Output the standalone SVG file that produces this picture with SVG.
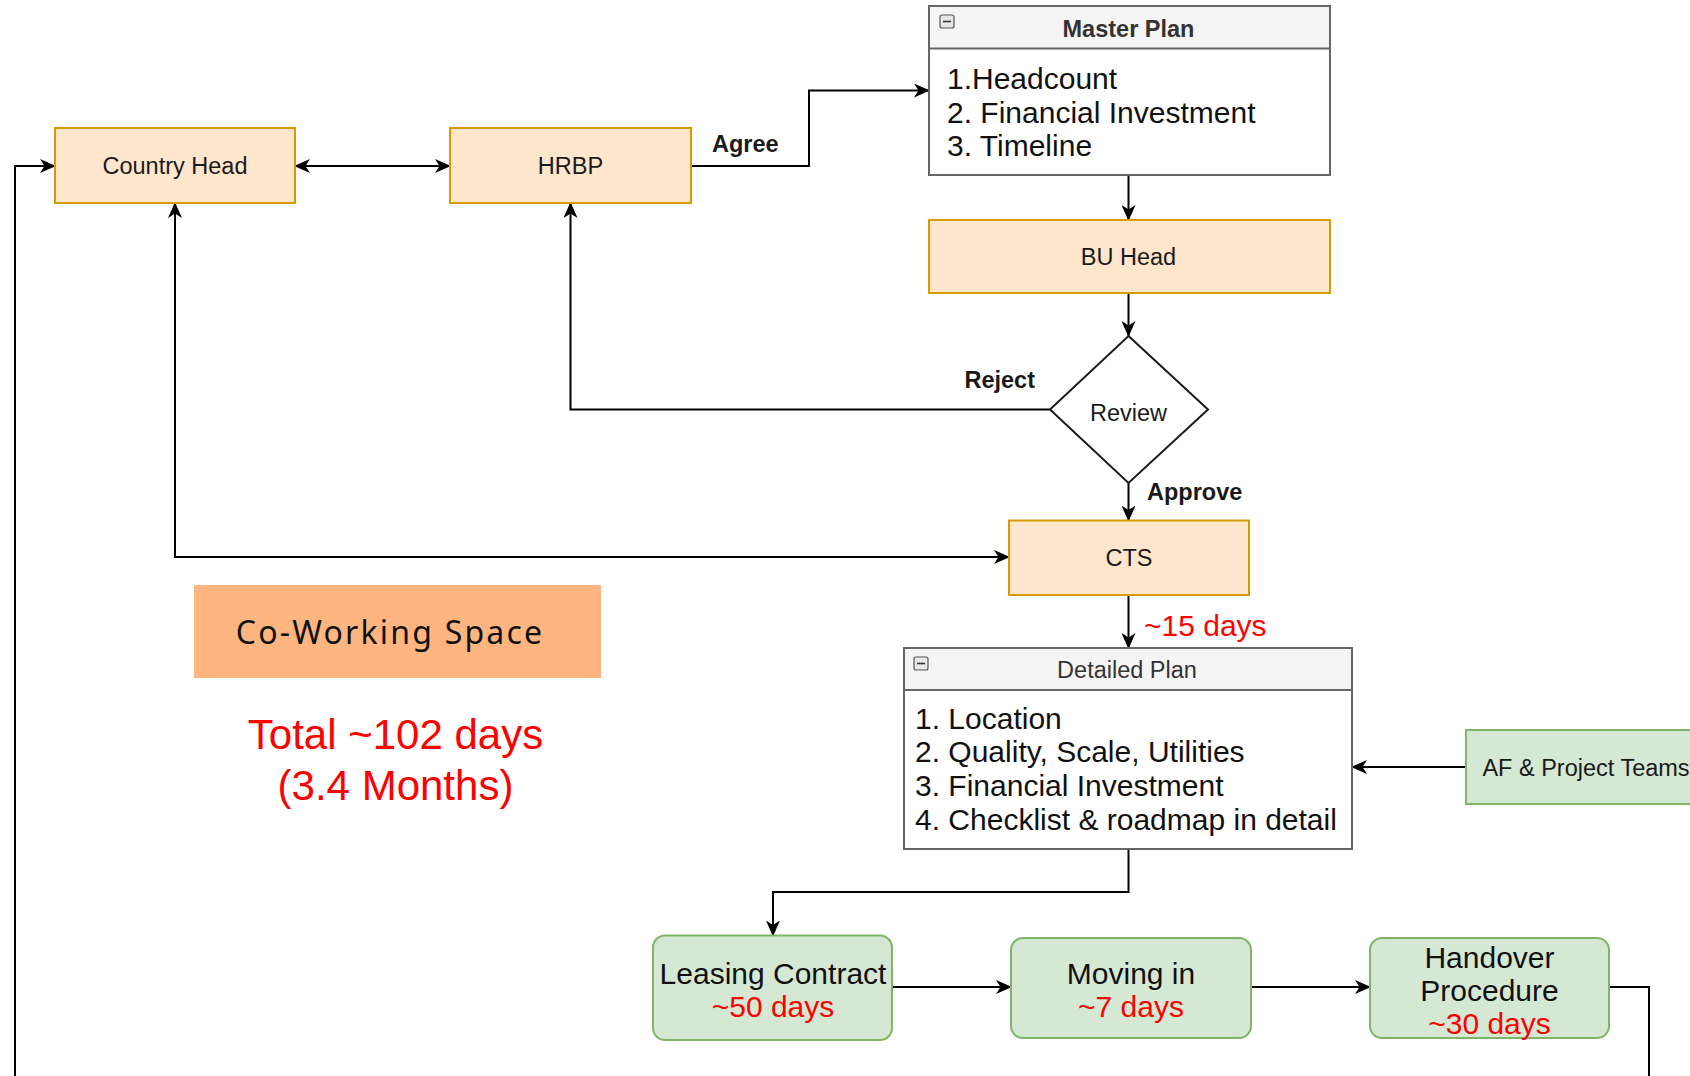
<svg xmlns="http://www.w3.org/2000/svg" width="1690" height="1076" viewBox="0 0 1690 1076">
<defs>
<marker id="arr" viewBox="0 0 16 14" refX="15" refY="7" markerWidth="16" markerHeight="14" markerUnits="userSpaceOnUse" orient="auto-start-reverse">
<path d="M0,0 L16,7 L0,14 L4.5,7 z" fill="#000"/>
</marker>
</defs>
<style>
.lbl{font-family:"Liberation Sans",Arial,sans-serif;font-size:23.5px;fill:#1a1a1a;text-anchor:middle}
.bold{font-family:"Liberation Sans",Arial,sans-serif;font-size:23.5px;font-weight:bold;fill:#1a1a1a}
.item{font-family:"Liberation Sans",Arial,sans-serif;font-size:30px;fill:#111}
.red{font-family:"Liberation Sans",Arial,sans-serif;font-size:30px;fill:#ff0000}
.big{font-family:"Liberation Sans",Arial,sans-serif;font-size:42px;fill:#ff0000;text-anchor:middle}
.orange{fill:#ffe6cc;stroke:#d79b00;stroke-width:2}
.green{fill:#d5e8d4;stroke:#82b366;stroke-width:2}
.panel{fill:#fff;stroke:#666;stroke-width:2}
.head{fill:#f5f5f5;stroke:#666;stroke-width:2}
.conn{fill:none;stroke:#000;stroke-width:2}
.icon{fill:#e8e8e8;stroke:#555;stroke-width:1.2}
</style>
<g id="connectors">
<path class="conn" d="M295,166 H450" marker-start="url(#arr)" marker-end="url(#arr)"/>
<path class="conn" d="M691,166 H809 V90.5 H929" marker-end="url(#arr)"/>
<path class="conn" d="M1128.5,175 V220" marker-end="url(#arr)"/>
<path class="conn" d="M1128.5,293 V336" marker-end="url(#arr)"/>
<path class="conn" d="M1050,409.5 H570.5 V203" marker-end="url(#arr)"/>
<path class="conn" d="M1128.5,483 V520.5" marker-end="url(#arr)"/>
<path class="conn" d="M175,203 V557 H1009" marker-start="url(#arr)" marker-end="url(#arr)"/>
<path class="conn" d="M1128.5,595 V648" marker-end="url(#arr)"/>
<path class="conn" d="M1466,767 H1352" marker-end="url(#arr)"/>
<path class="conn" d="M1128.5,849 V892 H773 V935.5" marker-end="url(#arr)"/>
<path class="conn" d="M892,987 H1011" marker-end="url(#arr)"/>
<path class="conn" d="M1251,987 H1370" marker-end="url(#arr)"/>
<path class="conn" d="M1609,987 H1649 V1100 H15 V166 H55" marker-end="url(#arr)"/>
<text class="bold" x="712" y="152">Agree</text>
<text class="bold" x="1035" y="388" text-anchor="end">Reject</text>
<text class="bold" x="1147" y="500">Approve</text>
<text class="red" x="1144" y="635.5">~15 days</text>
</g>
<g id="country-head">
<rect class="orange" x="55" y="128" width="240" height="75"/>
<text class="lbl" x="175" y="174">Country Head</text>
</g>
<g id="hrbp">
<rect class="orange" x="450" y="128" width="241" height="75"/>
<text class="lbl" x="570.5" y="174">HRBP</text>
</g>
<g id="master-plan">
<rect class="panel" x="929" y="6" width="401" height="169"/>
<rect class="head" x="929" y="6" width="401" height="42.5"/>
<rect class="icon" x="940" y="15" width="14" height="13" rx="2"/>
<line x1="943" y1="21.5" x2="951" y2="21.5" stroke="#333" stroke-width="1.6"/>
<text class="bold" x="1128.5" y="36.5" text-anchor="middle" style="fill:#333">Master Plan</text>
<text class="item" x="947" y="89">1.Headcount</text>
<text class="item" x="947" y="122.5">2. Financial Investment</text>
<text class="item" x="947" y="156">3. Timeline</text>
</g>
<g id="bu-head">
<rect class="orange" x="929" y="220" width="401" height="73"/>
<text class="lbl" x="1128.5" y="265">BU Head</text>
</g>
<g id="review">
<polygon points="1128.5,336 1208,409.5 1128.5,483 1050,409.5" fill="#fff" stroke="#1a1a1a" stroke-width="2"/>
<text class="lbl" x="1128.5" y="421">Review</text>
</g>
<g id="cts">
<rect class="orange" x="1009" y="520.5" width="240" height="74.5"/>
<text class="lbl" x="1129" y="566">CTS</text>
</g>
<g id="detailed-plan">
<rect class="panel" x="904" y="648" width="448" height="201"/>
<rect class="head" x="904" y="648" width="448" height="42"/>
<rect class="icon" x="914" y="657" width="14" height="13" rx="2"/>
<line x1="917" y1="663.5" x2="925" y2="663.5" stroke="#333" stroke-width="1.6"/>
<text class="lbl" x="1127" y="677.5" style="fill:#333">Detailed Plan</text>
<text class="item" x="915" y="728.5">1. Location</text>
<text class="item" x="915" y="762">2. Quality, Scale, Utilities</text>
<text class="item" x="915" y="796">3. Financial Investment</text>
<text class="item" x="915" y="829.5">4. Checklist &amp; roadmap in detail</text>
</g>
<g id="af-project-teams">
<rect class="green" x="1466" y="730" width="240" height="74"/>
<text class="lbl" x="1586" y="775.5">AF &amp; Project Teams</text>
</g>
<g id="leasing-contract">
<rect class="green" x="653" y="935.5" width="239" height="104.5" rx="12"/>
<text class="item" x="773" y="983.5" text-anchor="middle">Leasing Contract</text>
<text class="red" x="773" y="1017" text-anchor="middle">~50 days</text>
</g>
<g id="moving-in">
<rect class="green" x="1011" y="938" width="240" height="100" rx="12"/>
<text class="item" x="1131" y="983.5" text-anchor="middle">Moving in</text>
<text class="red" x="1131" y="1017" text-anchor="middle">~7 days</text>
</g>
<g id="handover-procedure">
<rect class="green" x="1370" y="938" width="239" height="100" rx="12"/>
<text class="item" x="1489.5" y="967.5" text-anchor="middle">Handover</text>
<text class="item" x="1489.5" y="1000.5" text-anchor="middle">Procedure</text>
<text class="red" x="1489.5" y="1033.5" text-anchor="middle">~30 days</text>
</g>
<g id="co-working-space">
<rect x="194" y="585" width="407" height="93" fill="#ffb57f"/>
<text x="390" y="644" text-anchor="middle" font-family="'Noto Sans','Open Sans',sans-serif" font-size="32" letter-spacing="2.2" fill="#111">Co-Working Space</text>
</g>
<g id="total">
<text class="big" x="395.5" y="749">Total ~102 days</text>
<text class="big" x="395.5" y="800">(3.4 Months)</text>
</g>
</svg>
